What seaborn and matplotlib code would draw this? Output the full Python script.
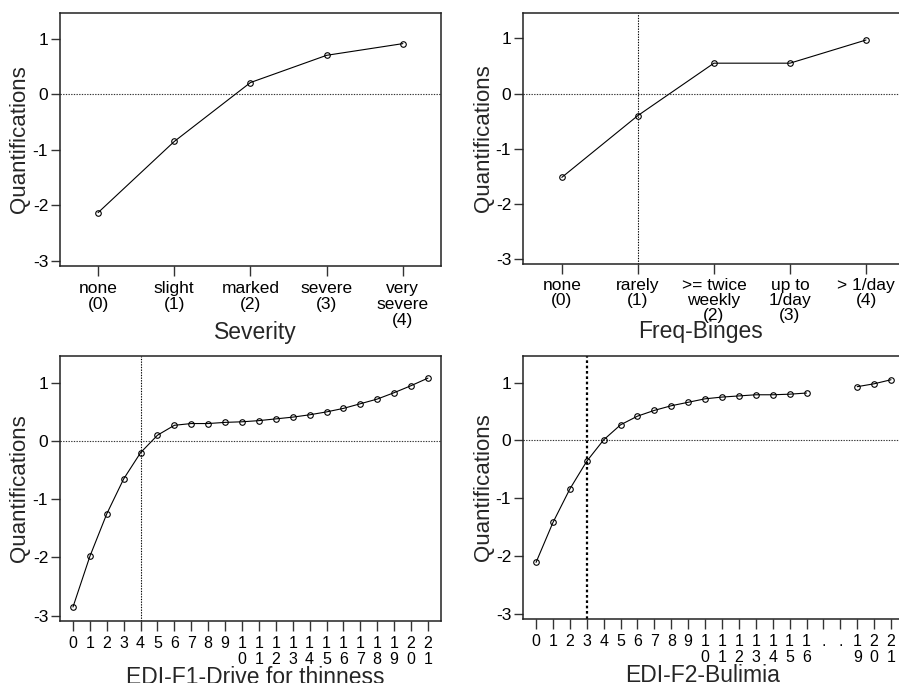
import matplotlib
matplotlib.use("Agg")
import matplotlib.pyplot as plt
import seaborn as sns
import pandas as pd

# category labels and quantifications
severity_labels = ["none\n(0)", "slight\n(1)", "marked\n(2)", "severe\n(3)", "very\nsevere\n(4)"]
severity_values = [-2.13, -0.85, 0.21, 0.70, 0.91]

binges_labels = ["none\n(0)", "rarely\n(1)", ">= twice\nweekly\n(2)", "up to\n1/day\n(3)", "> 1/day\n(4)"]
binges_values = [-1.52, -0.40, 0.55, 0.55, 0.97]

f1_cats = list(range(22))
f1_values = [-2.85, -1.98, -1.25, -0.65, -0.20, 0.10, 0.27, 0.30, 0.30, 0.32, 0.33,
             0.35, 0.38, 0.41, 0.45, 0.50, 0.56, 0.64, 0.72, 0.83, 0.95, 1.08]

f2_cats = [0, 1, 2, 3, 4, 5, 6, 7, 8, 9, 10, 11, 12, 13, 14, 15, 16, 19, 20, 21]
f2_values = [-2.11, -1.42, -0.84, -0.36, 0.01, 0.27, 0.42, 0.52, 0.60, 0.66, 0.72,
             0.75, 0.77, 0.79, 0.79, 0.80, 0.82, 0.93, 0.98, 1.05]
f2_segment = [0] * 17 + [1] * 3
f2_ticklabels = [str(i) for i in range(10)] + ["1\n%d" % i for i in range(7)] + [".", ".", "1\n9", "2\n0", "2\n1"]

f1_ticklabels = [str(i) if i < 10 else "%s\n%s" % (str(i)[0], str(i)[1]) for i in f1_cats]

sns.set_style("ticks")
plt.rcParams['font.family'] = ['Liberation Sans', 'DejaVu Sans']
plt.rcParams['xtick.major.size'] = 7
plt.rcParams['ytick.major.size'] = 6.5
plt.rcParams['xtick.major.width'] = 1.0
plt.rcParams['ytick.major.width'] = 1.0
plt.rcParams['xtick.color'] = '#333333'
plt.rcParams['ytick.color'] = '#333333'
plt.rcParams['xtick.labelcolor'] = 'black'
plt.rcParams['ytick.labelcolor'] = 'black'

fig = plt.figure(figsize=(8.99, 6.83), dpi=100)
w = 0.4238
ax1 = fig.add_axes([0.0667, 0.6105, w, 0.3704])
ax2 = fig.add_axes([0.5818, 0.6135, w, 0.3675])
ax3 = fig.add_axes([0.0667, 0.0908, w, 0.388])
ax4 = fig.add_axes([0.5818, 0.0937, w, 0.385])

line_kw = dict(color='black', linewidth=0.8, marker='o', markersize=4,
               markerfacecolor='none', markeredgecolor='black', markeredgewidth=0.8)
dot = (0, (1.2, 1.2))


def finish(ax, xlim, labels, ticks, xlabel, xlab_x, xlab_y, vline=None, vlw=0.8,
           tsize=12.5, tpad=3.7, lsp=1.08):
    ax.axhline(0, color='#333333', linewidth=0.8, linestyle=dot, zorder=0)
    if vline is not None:
        ax.axvline(vline, color='black', linewidth=vlw, linestyle=dot, zorder=0)
    ax.set_xlim(*xlim)
    ax.set_ylim(-3.09, 1.46)
    ax.set_yticks([-3, -2, -1, 0, 1])
    ax.set_yticklabels(['-3', '-2', '-1', '0', '1'], fontsize=12.5)
    ax.set_xticks(ticks)
    ax.set_xticklabels(labels, fontsize=tsize, linespacing=lsp)
    ax.tick_params(axis='y', pad=2)
    ax.tick_params(axis='x', pad=tpad)
    for s in ax.spines.values():
        s.set_linewidth(1.1)
        s.set_color('#222222')
    ax.set_xlabel(xlabel, fontsize=16.5, va='top')
    ax.xaxis.set_label_coords(xlab_x, xlab_y)
    ax.set_ylabel('Quantifications', fontsize=16, va='center')
    ax.yaxis.set_label_coords(-0.105, 0.5)


sns.lineplot(x=list(range(5)), y=severity_values, ax=ax1, **line_kw)
finish(ax1, (-0.5, 4.5), severity_labels, list(range(5)), 'Severity', 0.514, -0.218)

sns.lineplot(x=list(range(5)), y=binges_values, ax=ax2, **line_kw)
finish(ax2, (-0.51, 4.5), binges_labels, list(range(5)), 'Freq-Binges', 0.465, -0.225,
       vline=1, lsp=1.0, tpad=3.0)

sns.lineplot(x=f1_cats, y=f1_values, ax=ax3, **line_kw)
finish(ax3, (-0.77, 21.77), f1_ticklabels, f1_cats, 'EDI-F1-Drive for thinness', 0.512, -0.17,
       vline=4, tsize=11.5, tpad=3.5, lsp=1.15)

df2 = pd.DataFrame({'x': f2_cats, 'y': f2_values, 'seg': f2_segment})
sns.lineplot(data=df2, x='x', y='y', units='seg', estimator=None, ax=ax4, **line_kw)
finish(ax4, (-0.77, 21.77), f2_ticklabels, list(range(22)), 'EDI-F2-Bulimia', 0.47, -0.172,
       vline=3, vlw=1.6, tsize=11.5, tpad=3.5, lsp=1.15)

fig.savefig('out.png', dpi=100)
